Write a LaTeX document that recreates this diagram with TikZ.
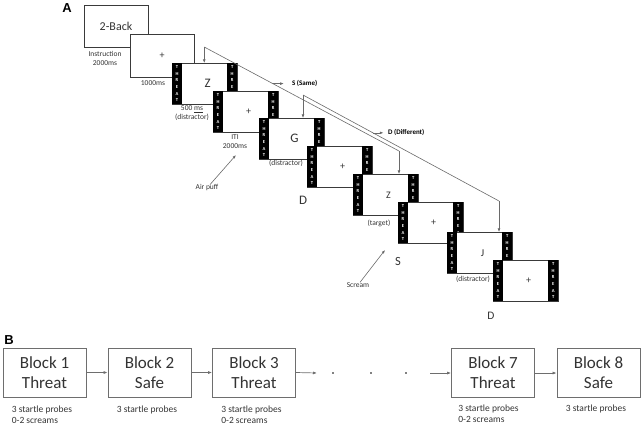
\documentclass[tikz,border=0pt]{standalone}
\usepackage{fontspec}
\setmainfont{Carlito}
\newfontfamily\panelfont{Liberation Sans}
\usetikzlibrary{arrows.meta,calc}
\definecolor{framegray}{HTML}{3A3A3A}
\definecolor{linegray}{HTML}{6A6A6A}
\definecolor{boxgray}{HTML}{6E6E6E}
\definecolor{txtgray}{HTML}{333333}
\newcommand\ThreatWord{T\\H\\R\\E\\A\\T}
\newcommand\ThreatFrame[5]{%
  \node[tframe] (#1) at (#2,#3) {};
  \node[tbar, anchor=north west] (#1L) at (#1.north west) {\ThreatWord};
  \node[tbar, anchor=north east] (#1R) at (#1.north east) {\ThreatWord};
  \node[text=txtgray, inner sep=0, font=\fontsize{#5}{#5}\selectfont] (#1T) at ([xshift=3pt]#1.center) {#4};
}
\tikzset{
  tframe/.style={draw=framegray, fill=white, line width=0.6pt, inner sep=0,
    minimum width=64.5pt, minimum height=41pt, anchor=north west},
  plainframe/.style={draw=framegray, fill=white, line width=0.6pt, inner sep=0,
    minimum width=64pt, minimum height=42.5pt, text=txtgray},
  tbar/.style={fill=black, text=white, inner sep=0, minimum width=9.5pt,
    minimum height=41pt, align=center, font=\fontsize{4.6}{6.6}\selectfont\bfseries},
  lbl/.style={text=txtgray, inner sep=0, align=center, font=\fontsize{7.5}{9}\selectfont},
  biglbl/.style={text=txtgray, inner sep=0},
  conn/.style={draw=linegray, line width=0.6pt},
  arr/.style={draw=linegray, line width=0.6pt, -{Latex[length=3.6pt,width=2.8pt]}},
  tag/.style={inner sep=0, anchor=west, font=\fontsize{7}{8}\selectfont\bfseries},
  block/.style={draw=boxgray, line width=0.8pt, inner sep=0, minimum width=83pt,
    minimum height=49pt, align=center, text=txtgray, font=\fontsize{17}{20}\selectfont},
  sub/.style={anchor=north west, inner sep=0, align=left, text=txtgray,
    font=\fontsize{9.5}{11}\selectfont},
  dotn/.style={circle, fill=black, inner sep=0, minimum size=1.8pt},
  panel/.style={inner sep=0, font=\panelfont\fontsize{13}{13}\selectfont\bfseries}
}
\begin{document}
\begin{tikzpicture}[x=1pt,y=-1pt]
\useasboundingbox (0,0) rectangle (644,431);
\node[panel] (pA) at (67,8) {A};
\node[panel] (pB) at (9,340) {B};

% plain frames
\node[plainframe, font=\fontsize{12}{12}\selectfont] (F0) at (116,26.5) {2-Back};
\node[plainframe, font=\fontsize{10}{10}\selectfont] (F1) at (162,56) {+};

% threat frames
\ThreatFrame{F2}{172}{63}{Z}{13}
\ThreatFrame{F3}{213}{91}{+}{10}
\ThreatFrame{F4}{259}{118}{G}{13}
\ThreatFrame{F5}{307}{146}{+}{10}
\ThreatFrame{F6}{353}{174}{Z}{10}
\ThreatFrame{F7}{398}{202}{+}{10}
\ThreatFrame{F8}{447}{232}{J}{10.5}
\ThreatFrame{F9}{493}{260}{+}{10}

% labels
\node[lbl] (instrL) at (105,58) {Instruction\\2000ms};
\node[lbl] (oneL) at (153,83.5) {1000ms};
\node[lbl] (fiveL) at (192,113.5) {500 \underline{ms}\\(distractor)};
\node[lbl] (itiL) at (235,142) {ITI\\2000ms};
\node[lbl] (distL1) at (286,163.5) {(distractor)};
\node[lbl] (targL) at (379,223.5) {(target)};
\node[lbl] (distL2) at (473,279) {(distractor)};
\node[lbl] (airL) at (207,188) {Air puff};
\node[lbl] (scrL) at (358,285) {Scream};
\node[biglbl, font=\fontsize{13}{13}\selectfont] (D1) at (303,200) {D};
\node[biglbl, font=\fontsize{12.5}{12.5}\selectfont] (S1) at (398,261) {S};
\node[biglbl, font=\fontsize{11.5}{11.5}\selectfont] (D2) at (491,316) {D};

\coordinate (airTip) at (236,155);
\coordinate (scrTip) at (385,250);
\draw[arr] ([xshift=3pt]airL.north) -- (airTip);
\draw[arr] ([xshift=2pt]scrL.north) -- (scrTip);

% comparison lines
\coordinate (cA) at (204.25,47);
\coordinate (cA2) at (399,151);
\coordinate (cB) at (303,95);
\coordinate (cB2) at (499,201);
\draw[arr] (cA) -- (cA |- F2.north);
\draw[conn] (cA) -- (cA2);
\draw[arr] (cA2) -- (cA2 |- F6.north);
\draw[arr] (cB) -- (cB |- F4.north);
\draw[conn] (cB) -- (cB2);
\draw[arr] (cB2) -- (cB2 |- F8.north);

\coordinate (sS) at ($(cA)!0.352!(cA2)$);
\coordinate (sD) at ($(cB)!0.357!(cB2)$);
\node[tag] (sameL) at ([xshift=19pt]sS) {S (Same)};
\node[tag] (diffL) at ([xshift=15pt]sD) {D (Different)};
\draw[arr, shorten >=8pt] (sS) -- (sameL.west);
\draw[arr, shorten >=4.5pt] (sD) -- (diffL.west);

% panel B
\node[block] (B1) at (44.5,372.5) {Block 1\\Threat};
\node[block] (B2) at (149.5,372.5) {Block 2\\Safe};
\node[block] (B3) at (254,372.5) {Block 3\\Threat};
\node[block] (B7) at (493,373) {Block 7\\Threat};
\node[block] (B8) at (598.5,373) {Block 8\\Safe};

\node[sub] (s1) at ([shift={(9,8)}]B1.south west) {3 startle probes\\0-2 screams};
\node[sub] (s2) at ([shift={(9,8)}]B2.south west) {3 startle probes};
\node[sub] (s3) at ([shift={(9,8)}]B3.south west) {3 startle probes\\0-2 screams};
\node[sub] (s7) at ([shift={(7,7)}]B7.south west) {3 startle probes\\0-2 screams};
\node[sub] (s8) at ([shift={(9,7)}]B8.south west) {3 startle probes};

\node[dotn] (d1) at (333,373) {};
\node[dotn] (d2) at (371,373) {};
\node[dotn] (d3) at (406,373) {};
\coordinate (aEnd) at (317,373);
\coordinate (aStart) at (430,373);

\tikzset{barr/.style={draw=boxgray, line width=0.7pt, -{Latex[length=4pt,width=3pt]}}}
\draw[barr] (B1.east) -- (B2.west);
\draw[barr] (B2.east) -- (B3.west);
\draw[barr] (B3.east) -- (aEnd);
\draw[barr] (aStart) -- (B7.west);
\draw[barr] (B7.east) -- (B8.west);
\end{tikzpicture}
\end{document}
